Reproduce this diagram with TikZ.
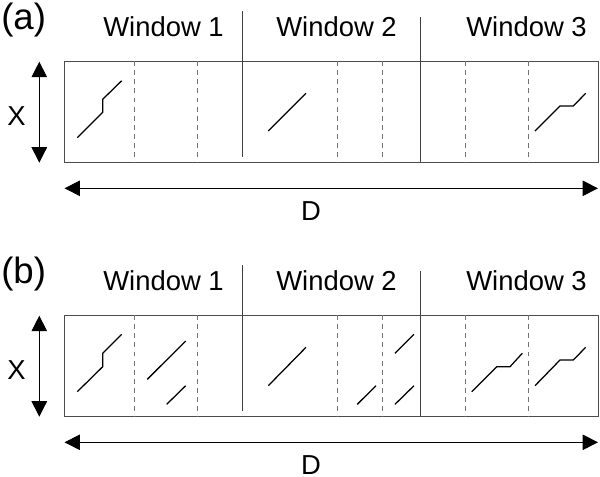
\documentclass[tikz,border=0pt]{standalone}
\usepackage{fontspec}
\setmainfont{Liberation Sans}
\usetikzlibrary{arrows.meta}

\tikzset{
	frame/.style={line width=0.6pt, draw=black!70},
	winsep/.style={line width=0.6pt, draw=black!75},
	subsep/.style={line width=0.6pt, draw=black!55, dash pattern=on 3.5pt off 3pt},
	seg/.style={line width=0.9pt, line join=miter},
	dimarrow/.style={line width=0.7pt, {Triangle[length=11pt,width=11pt]}-{Triangle[length=11pt,width=11pt]}},
	lbl/.style={font=\fontsize{19.5}{23}\selectfont, inner sep=0pt, anchor=base},
	tag/.style={font=\fontsize{26}{30}\selectfont, inner sep=0pt, anchor=base west},
}

% common frame of one panel: #1 tag letter, #2 name suffix
\def\drawpanel#1#2{%
	\node[tag] (tag#2) at (1, 29) {(#1)};
	\node[lbl] (winA#2) at (163.5, 36) {Window 1};
	\node[lbl] (winB#2) at (336.5, 36) {Window 2};
	\node[lbl] (winC#2) at (526.5, 36) {Window 3};
	\coordinate (nw#2) at (64.5, 61);
	\coordinate (se#2) at (598, 162);
	\draw[frame] (nw#2) rectangle (se#2);
	\draw[winsep] (242.7, 11) -- (242.7, 156.7);
	\draw[winsep] (420.3, 17.3) -- (420.3, 162);
	\foreach \x in {134, 197.7, 337.7, 382.3, 465, 528.3}
		\draw[subsep] (\x, 61) -- (\x, 162);
	\coordinate (xtop#2) at (39.3, 61.7);
	\coordinate (xbot#2) at (39.3, 162.7);
	\draw[dimarrow] (xtop#2) -- (xbot#2);
	\node[lbl] (xlab#2) at (16.5, 125) {X};
	\coordinate (dleft#2) at (64.5, 188.3);
	\coordinate (dright#2) at (598, 188.3);
	\draw[dimarrow] (dleft#2) -- (dright#2);
	\node[lbl] (dlab#2) at (311, 220.7) {D};
}

\begin{document}
\begin{tikzpicture}[x=0.025cm, y=-0.025cm]
	%%%%% START %%%%%
	\useasboundingbox (0, 0) rectangle (600, 476);
	
	% panel (a)
	\drawpanel{a}{a}
	\draw[seg] (77.3, 137.7) -- (102.7, 112.3) -- (102.7, 99.3) -- (121.7, 80.7);
	\draw[seg] (268.3, 131) -- (306, 93.3);
	\draw[seg] (535, 131) -- (560, 106) -- (573.3, 106) -- (585.7, 93.3);
	
	% panel (b)
	\begin{scope}[shift={(0, 254)}]
		\drawpanel{b}{b}
		\draw[seg] (77.3, 137.7) -- (102.7, 112.7) -- (102.7, 99.3) -- (121.7, 80.3);
		\draw[seg] (147.3, 125.3) -- (185.7, 87);
		\draw[seg] (166.7, 150.3) -- (185.7, 131.7);
		
		\draw[seg] (268.3, 131.7) -- (306, 93.3);
		\draw[seg] (357.3, 150.3) -- (376, 131.7);
		\draw[seg] (395, 99.3) -- (414, 80.3);
		\draw[seg] (395, 150.3) -- (414, 131.7);
		
		\draw[seg] (471.7, 137.7) -- (496.7, 112.7) -- (510, 112.7) -- (522.3, 99.3);
		\draw[seg] (535, 131.7) -- (560, 106) -- (573.3, 106) -- (585.7, 93.3);
	\end{scope}
	%%%%% END %%%%%
\end{tikzpicture}
\end{document}
